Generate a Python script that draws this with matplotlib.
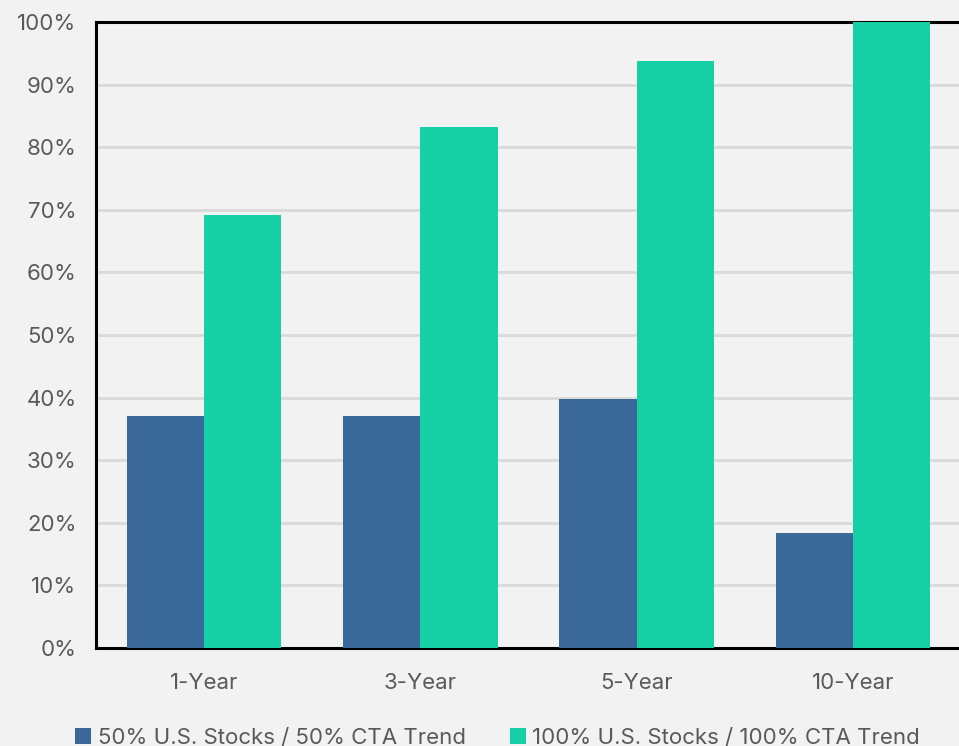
import matplotlib.pyplot as plt
import numpy as np

categories = ["1-Year", "3-Year", "5-Year", "10-Year"]
series_names = ["50% U.S. Stocks / 50% CTA Trend", "100% U.S. Stocks / 100% CTA Trend"]
half_values = [37.0, 37.0, 39.8, 18.4]
full_values = [69.2, 83.2, 93.8, 100.0]

BG = "#F2F2F2"
TEXT = "#595959"
BLUE = "#3A6898"
GREEN = "#15CFA5"

plt.rcParams["font.family"] = ["Inter", "DejaVu Sans"]

fig = plt.figure(figsize=(9.59, 7.46), dpi=100, facecolor=BG)
ax = fig.add_axes([96 / 959, 1 - 648 / 746, 1 - 96 / 959 + 0.002, (648 - 22) / 746])
ax.set_facecolor(BG)

x = np.arange(len(categories))
w = 0.357
ax.bar(x - w / 2, half_values, w, color=BLUE, label=series_names[0], zorder=3)
ax.bar(x + w / 2, full_values, w, color=GREEN, label=series_names[1], zorder=3)

ax.set_xlim(-0.5, len(categories) - 0.5)
ax.set_ylim(0, 100)
ax.set_yticks(np.arange(0, 101, 10))
ax.set_yticklabels([f"{v}%" for v in range(0, 101, 10)])
ax.set_xticks(x)
ax.set_xticklabels(categories)
ax.tick_params(axis="both", length=0, labelsize=16, colors=TEXT)
ax.tick_params(axis="y", pad=14)
ax.tick_params(axis="x", pad=18)
ax.grid(axis="y", color="#D9D9D9", linewidth=2, zorder=0)

for side in ["top", "left", "bottom"]:
    ax.spines[side].set_linewidth(2.2)
    ax.spines[side].set_color("black")
ax.spines["right"].set_visible(False)

fig.legend(loc="lower center", bbox_to_anchor=(0.519, -0.029), ncol=2,
           frameon=False, fontsize=16, labelcolor=TEXT, handlelength=0.7,
           handleheight=0.7, handletextpad=0.3, columnspacing=2.0)

fig.savefig("out.png", dpi=100, facecolor=BG)
